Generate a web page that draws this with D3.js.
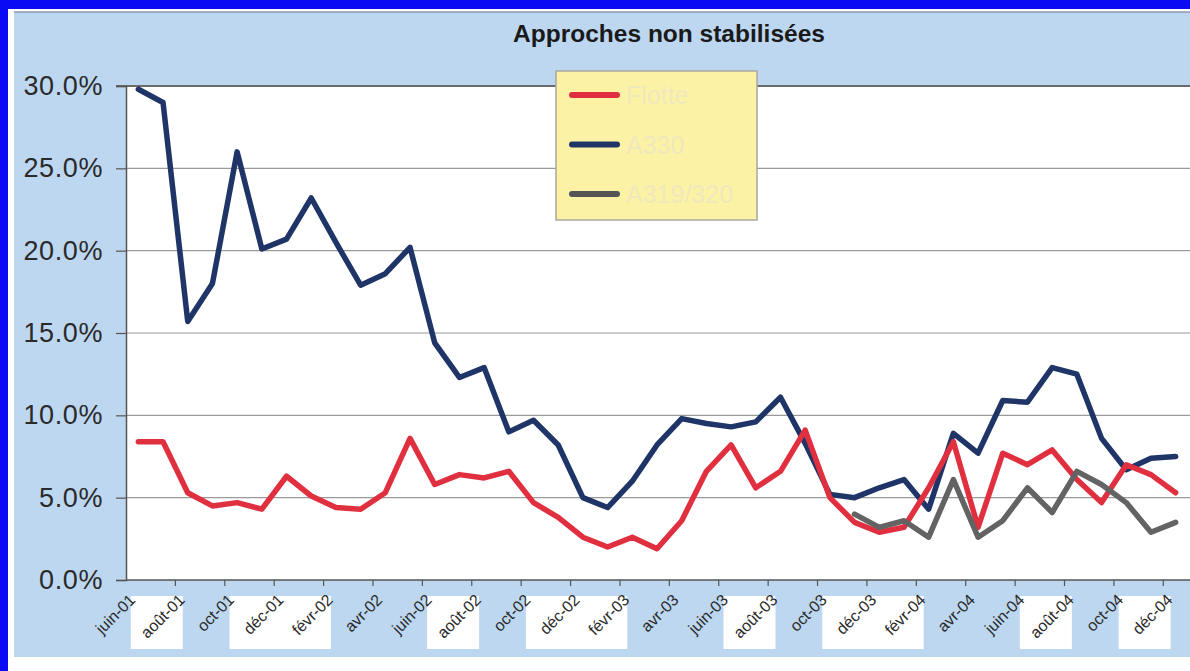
<!DOCTYPE html>
<html>
<head>
<meta charset="utf-8">
<script src="https://cdn.jsdelivr.net/npm/d3@7"></script>
<style>
    body { margin: 0; background: #ffffff; }
    svg { display: block; font-family: "Liberation Sans", Arial, sans-serif; }
    text.xlabel { transform-box: view-box; transform-origin: 0 0; }
</style>
</head>
<body>
<div id="chart"></div>
<script>
// months on the category axis
const months = ["juin-01","juil-01","août-01","sept-01","oct-01","nov-01","déc-01",
    "janv-02","févr-02","mars-02","avr-02","mai-02","juin-02","juil-02","août-02","sept-02","oct-02","nov-02","déc-02",
    "janv-03","févr-03","mars-03","avr-03","mai-03","juin-03","juil-03","août-03","sept-03","oct-03","nov-03","déc-03",
    "janv-04","févr-04","mars-04","avr-04","mai-04","juin-04","juil-04","août-04","sept-04","oct-04","nov-04","déc-04"];

// values in percent
const redValues = [8.4, 8.4, 5.3, 4.5, 4.7, 4.3, 6.3, 5.1, 4.4, 4.3, 5.3, 8.6, 5.8, 6.4, 6.2, 6.6, 4.7, 3.8, 2.6, 2.0,
    2.6, 1.9, 3.6, 6.6, 8.2, 5.6, 6.6, 9.1, 5.0, 3.5, 2.9, 3.2, 5.6, 8.4, 3.2, 7.7, 7.0, 7.9, 6.1, 4.7, 7.0, 6.4, 5.3];
const blueValues = [29.8, 29.0, 15.7, 18.0, 26.0, 20.1, 20.7, 23.2, 20.5, 17.9, 18.6, 20.2, 14.4, 12.3, 12.9, 9.0, 9.7,
    8.2, 5.0, 4.4, 6.0, 8.2, 9.8, 9.5, 9.3, 9.6, 11.1, 8.3, 5.2, 5.0, 5.6, 6.1, 4.3, 8.9, 7.7, 10.9, 10.8, 12.9, 12.5,
    8.6, 6.7, 7.4, 7.5];
const grayValues = [null, null, null, null, null, null, null, null, null, null, null, null, null, null, null, null,
    null, null, null, null, null, null, null, null, null, null, null, null, null,
    4.0, 3.2, 3.6, 2.6, 6.1, 2.6, 3.6, 5.6, 4.1, 6.6, 5.8, 4.7, 2.9, 3.5];

// legend names are almost unreadable in the scan
const seriesNames = ["Flotte", "A330", "A319/320"];
const yTicks = [0, 5, 10, 15, 20, 25, 30];
// labels that sit on a white patch in the scan
const patchedLabels = ["août-01","déc-01","févr-02","août-02","déc-02","févr-03","août-03","déc-03","févr-04","août-04","déc-04"];

const width = 1190;
const height = 671;
const plot = {left: 126, right: 1188, top: 86, bottom: 580};

var svg;
var x;
var y;

function init() {
    svg = d3.select("#chart")
        .append("svg")
        .attr("width", width)
        .attr("height", height);

    drawFrame();
    createScales();
    drawGrid();
    drawAxes();
    drawLines();
    drawLegend();
}

function drawFrame() {
    // blue scan border
    svg.append("rect").attr("x", 0).attr("y", 0).attr("width", width).attr("height", 9).style("fill", "#0a0af5");
    svg.append("rect").attr("x", 0).attr("y", 0).attr("width", 8).attr("height", height).style("fill", "#0a0af5");

    svg.append("rect")
        .attr("x", 14)
        .attr("y", 12)
        .attr("width", width - 14)
        .attr("height", 645)
        .style("fill", "#bdd7f1");
    svg.append("line")
        .attr("x1", 14).attr("x2", width)
        .attr("y1", 12).attr("y2", 12)
        .style("stroke", "#8a9aa8")
        .style("stroke-width", 1.5);

    svg.append("text")
        .attr("x", 669)
        .attr("y", 42)
        .attr("text-anchor", "middle")
        .style("font-size", "24.5px")
        .style("font-weight", "bold")
        .style("fill", "#1a1a1a")
        .text("Approches non stabilisées");
}

function createScales() {
    x = d3.scaleBand()
        .domain(months)
        .range([plot.left, plot.right])
        .padding(0);

    y = d3.scaleLinear()
        .domain([0, 30])
        .range([plot.bottom, plot.top]);
}

function drawGrid() {
    svg.append("rect")
        .attr("x", plot.left)
        .attr("y", plot.top)
        .attr("width", width - plot.left)
        .attr("height", plot.bottom - plot.top)
        .style("fill", "#ffffff");

    svg.append("g")
        .selectAll("line")
        .data(yTicks.filter(d => d > 0 && d < 30))
        .enter()
        .append("line")
        .attr("x1", plot.left)
        .attr("x2", width)
        .attr("y1", d => y(d))
        .attr("y2", d => y(d))
        .style("stroke", "#9a9a9a")
        .style("stroke-width", 1.2);

    svg.append("line")
        .attr("x1", plot.left - 10).attr("x2", width)
        .attr("y1", y(30)).attr("y2", y(30))
        .style("stroke", "#6b6b6b")
        .style("stroke-width", 2);
}

function drawAxes() {
    const yAxis = d3.axisLeft(y)
        .tickValues(yTicks)
        .tickSize(10)
        .tickFormat(d => d.toFixed(1) + "%");

    const gy = svg.append("g")
        .attr("transform", "translate(" + plot.left + ",0)")
        .call(yAxis);
    gy.select(".domain").style("stroke", "#555").style("stroke-width", 1.5);
    gy.selectAll(".tick line").style("stroke", "#555").style("stroke-width", 1.2);
    gy.selectAll(".tick text")
        .attr("x", -23)
        .style("font-family", "'Liberation Sans', Arial, sans-serif")
        .style("font-size", "27px")
        .style("letter-spacing", "0.6px")
        .style("fill", "#2a2a2a");

    // ticks between every second month, labels under every second month
    const labelled = months.filter((m, i) => i % 2 == 0);
    const xAxis = d3.axisBottom(x)
        .tickValues(labelled)
        .tickSize(6)
        .tickSizeOuter(0)
        .tickFormat("");

    const gx = svg.append("g")
        .attr("transform", "translate(0," + plot.bottom + ")")
        .call(xAxis);
    gx.select(".domain").attr("d", "M" + plot.left + ",0H" + width).style("stroke", "#555").style("stroke-width", 1.5);
    gx.selectAll(".tick line")
        .attr("transform", "translate(" + (-x.bandwidth() / 2) + ",0)")
        .style("stroke", "#555")
        .style("stroke-width", 1.2)
        .style("display", d => d == months[0] ? "none" : null);

    gx.selectAll(".tick")
        .filter(d => patchedLabels.includes(d))
        .insert("rect", "text")
        .attr("x", -57)
        .attr("y", 16)
        .attr("width", 52)
        .attr("height", 53)
        .style("fill", "#ffffff");

    // labels turned 45 degrees (css transform)
    svg.append("g")
        .selectAll("text.xlabel")
        .data(labelled)
        .enter()
        .append("text")
        .attr("class", "xlabel")
        .style("transform", d => "translate(" + (x(d) + x.bandwidth() / 2 - 6) + "px," + (plot.bottom + 17) + "px) rotate(-45deg)")
        .attr("text-anchor", "end")
        .attr("dy", "0.35em")
        .style("font-size", "16px")
        .style("fill", "#2a2a2a")
        .text(d => d);
}

function drawLines() {
    const series = [
        {values: blueValues, color: "#1f3567"},
        {values: redValues, color: "#e0303f"},
        {values: grayValues, color: "#636363"}
    ];

    const line = d3.line()
        .defined(d => d.v != null)
        .x(d => x(d.m) + x.bandwidth() / 2)
        .y(d => y(d.v));

    svg.append("g")
        .selectAll("path")
        .data(series)
        .enter()
        .append("path")
        .attr("d", s => line(months.map((m, i) => ({m: m, v: s.values[i]}))))
        .style("fill", "none")
        .style("stroke", s => s.color)
        .style("stroke-width", 5.5)
        .style("stroke-linejoin", "round")
        .style("stroke-linecap", "round");
}

function drawLegend() {
    const colors = ["#e0303f", "#1f3567", "#555555"];
    const legend = svg.append("g").attr("transform", "translate(556,71)");

    legend.append("rect")
        .attr("width", 201)
        .attr("height", 149)
        .style("fill", "#fcf2a6")
        .style("stroke", "#a8a8a0")
        .style("stroke-width", 1.5);

    const rows = legend.selectAll("g.row")
        .data(seriesNames)
        .enter()
        .append("g")
        .attr("class", "row")
        .attr("transform", (d, i) => "translate(0," + (24 + i * 49.5) + ")");

    rows.append("line")
        .attr("x1", 16).attr("x2", 61)
        .attr("y1", 0).attr("y2", 0)
        .style("stroke", (d, i) => colors[i])
        .style("stroke-width", 6)
        .style("stroke-linecap", "round");

    rows.append("text")
        .attr("x", 70)
        .attr("y", 9)
        .style("font-size", "25px")
        .style("fill", "#efe8bb")
        .text(d => d);
}

init();
</script>
</body>
</html>
